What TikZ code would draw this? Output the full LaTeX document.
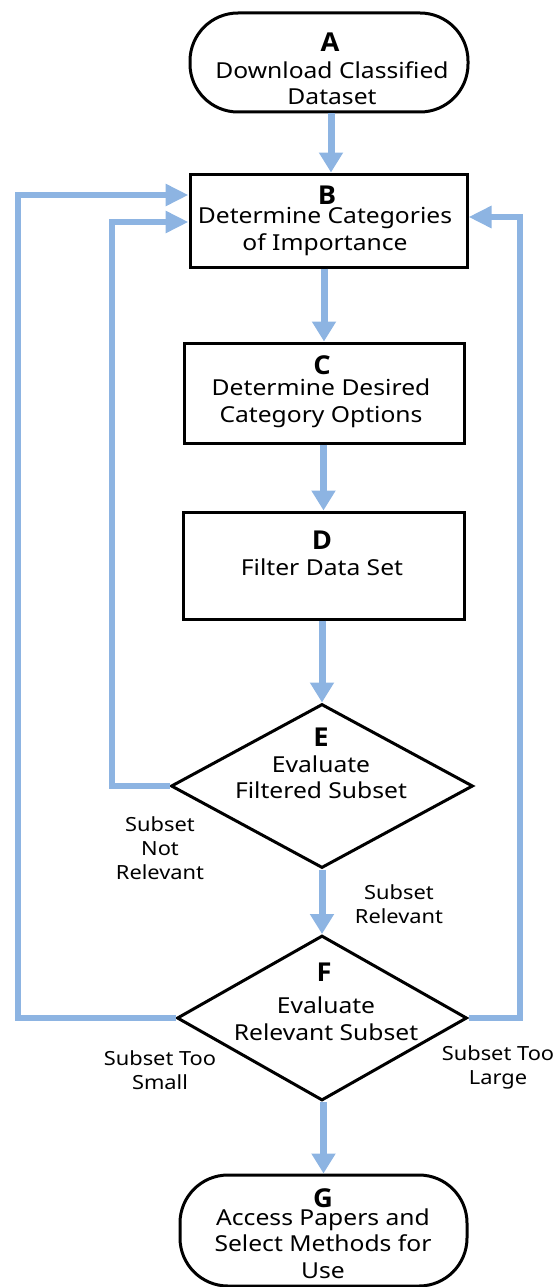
\documentclass[tikz,border=0pt]{standalone}
\usepackage{fontspec}
\setmainfont{Noto Sans}[FakeStretch=1.12]
\newfontfamily\letterfont{Open Sans}[FakeStretch=1.05]
\usetikzlibrary{arrows.meta,shapes.geometric}
\definecolor{flowblue}{RGB}{141,180,226}
\tikzset{
  box/.style={draw=black,line width=3pt,fill=white,inner sep=0pt},
  term/.style={box,rounded corners=48pt},
  choice/.style={draw=black,line width=3pt,fill=white,diamond,inner sep=0pt},
  txt/.style={align=center,font=\fontsize{22}{26.5}\selectfont,inner sep=0pt},
  letter/.style={font=\letterfont\bfseries\fontsize{26}{27}\selectfont,inner sep=0pt},
  lbl/.style={align=center,font=\fontsize{19.5}{24}\selectfont,inner sep=0pt},
  flow/.style={draw=flowblue,line width=7pt,-{Triangle[width=23pt,length=20pt]}},
  loop/.style={draw=flowblue,line width=6pt,-{Triangle[width=21pt,length=23pt]}},
}
\begin{document}
\begin{tikzpicture}[x=1pt,y=-1pt]
\useasboundingbox (0,0) rectangle (552,1287);

% process boxes
\node[term,minimum width=278pt,minimum height=99pt] (A) at (329,62.5) {};
\node[box,minimum width=277pt,minimum height=93pt] (B) at (328.5,220.5) {};
\node[box,minimum width=280pt,minimum height=100pt] (C) at (324,393) {};
\node[box,minimum width=281pt,minimum height=107pt] (D) at (323.5,565.5) {};
\node[choice,minimum width=302pt,minimum height=164pt] (E) at (322,786) {};
\node[choice,minimum width=290pt,minimum height=165pt] (F) at (322,1018) {};
\node[term,minimum width=287pt,minimum height=111pt] (G) at (323.5,1230.5) {};

% box texts
\node[letter] (Al) at (330,42) {A};
\node[txt] (At) at (332,83) {Download Classified\\Dataset};
\node[letter] (Bl) at (327,195) {B};
\node[txt] (Bt) at (325,231.5) {Determine Categories\\of Importance};
\node[letter] (Cl) at (322,365) {C};
\node[txt] (Ct) at (321,403.5) {Determine Desired\\Category Options};
\node[letter] (Dl) at (322,540) {D};
\node[txt] (Dt) at (322,567) {Filter Data Set};
\node[letter] (El) at (321,737) {E};
\node[txt] (Et) at (321,777) {Evaluate\\Filtered Subset};
\node[letter] (Fl) at (324,972) {F};
\node[txt] (Ft) at (326,1018.5) {Evaluate\\Relevant Subset};
\node[letter] (Gl) at (323,1198) {G};
\node[txt] (Gt) at (323,1243.5) {Access Papers and\\Select Methods for\\Use};

% main flow
\draw[flow] ([xshift=2pt]A.south) -- ([xshift=2pt]A.south |- B.north);
\draw[flow] (B.south -| C.north) -- (C.north);
\draw[flow] (C.south -| D.north) -- (D.north);
\draw[flow] (D.south -| E.north) -- (E.north);
\draw[flow] (E.south -| F.north) -- (F.north);
\draw[flow] (F.south -| G.north) -- (G.north);

% feedback loops back to B
\coordinate (outerL) at (18,195);
\coordinate (innerL) at (112,222);
\coordinate (outerR) at (520,217);
\draw[loop] (F.west) -| (outerL) -- (B.west |- outerL);
\draw[loop] (E.west) -| (innerL) -- (B.west |- innerL);
\draw[loop] (F.east) -| (outerR) -- (B.east |- outerR);

% branch labels
\node[lbl] (nr) at (160,848) {Subset\\Not\\Relevant};
\node[lbl] (rel) at (399,904.5) {Subset\\Relevant};
\node[lbl] (sm) at (160,1070.5) {Subset Too\\Small};
\node[lbl] (lg) at (498,1067.5) {Subset Too\\Large};
\end{tikzpicture}
\end{document}
